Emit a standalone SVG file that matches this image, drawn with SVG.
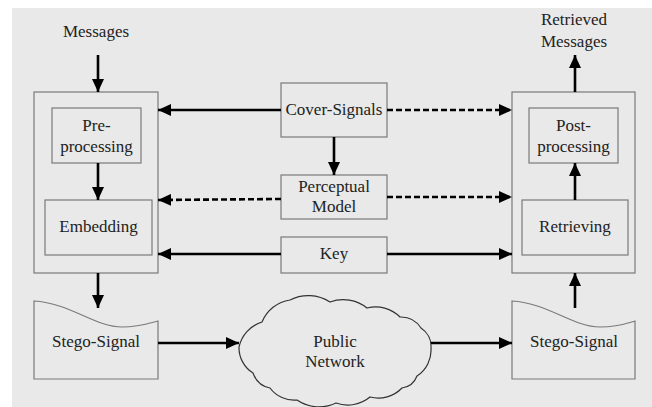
<svg xmlns="http://www.w3.org/2000/svg" width="652" height="407" viewBox="0 0 652 407">
<style>
.box{fill:none;stroke:#7a7a7a;stroke-width:1.2}
.t{font-family:'Liberation Serif','Times New Roman','DejaVu Serif',serif;font-size:17px;fill:#222;text-anchor:middle}
.a{stroke:#000;stroke-width:2.6;fill:none;marker-end:url(#ah)}
.d{stroke-dasharray:6 3}
</style>
<defs>
<marker id="ah" markerUnits="userSpaceOnUse" markerWidth="14" markerHeight="12" refX="13" refY="6" orient="auto">
<path d="M0,0 L13,6 L0,12 Z" fill="#000"/>
</marker>
</defs>
<rect x="0" y="0" width="652" height="407" fill="#fff"/>
<rect x="12" y="8" width="640" height="399" fill="#e9e9e9"/>

<g id="messages" font-family="Liberation Serif, serif"><text class="t" x="96" y="37">Messages</text></g>
<g id="retrieved-messages" font-family="Liberation Serif, serif"><text class="t" x="574" y="25">Retrieved</text><text class="t" x="574" y="47">Messages</text></g>

<g id="embedder"><rect class="box" x="34" y="92" width="124" height="181"/></g>
<g id="preprocessing"><rect class="box" x="52" y="108" width="89" height="55"/><text class="t" x="96.5" y="131">Pre-</text><text class="t" x="96.5" y="152">processing</text></g>
<g id="embedding"><rect class="box" x="45" y="200" width="107" height="55"/><text class="t" x="98.5" y="232">Embedding</text></g>

<g id="decoder"><rect class="box" x="512" y="92" width="123" height="181"/></g>
<g id="postprocessing"><rect class="box" x="529" y="108" width="89" height="55"/><text class="t" x="573.5" y="131">Post-</text><text class="t" x="573.5" y="152">processing</text></g>
<g id="retrieving"><rect class="box" x="522" y="200" width="106" height="55"/><text class="t" x="575" y="232">Retrieving</text></g>

<g id="cover-signals"><rect class="box" x="281" y="83" width="106" height="54"/><text class="t" x="334" y="115">Cover-Signals</text></g>
<g id="perceptual-model"><rect class="box" x="281" y="175" width="106" height="44"/><text class="t" x="334" y="192">Perceptual</text><text class="t" x="334" y="212">Model</text></g>
<g id="key"><rect class="box" x="281" y="237" width="106" height="36"/><text class="t" x="334" y="259">Key</text></g>

<g id="stego-left"><path class="box" d="M34,301 C70,303 95,327 122,327 C140,327 150,323 158,321 L158,379 L34,379 Z"/><text class="t" x="96" y="347">Stego-Signal</text></g>
<g id="stego-right"><path class="box" d="M512,301 C548,303 573,327 600,327 C618,327 628,323 635,321 L635,379 L512,379 Z"/><text class="t" x="574" y="347">Stego-Signal</text></g>

<g id="public-network">
<path fill="none" stroke="#333" stroke-width="1.2" d="M239,347 A34,34 0 0 1 262,322 A36,36 0 0 1 290,300 A40,40 0 0 1 330,302 A38,38 0 0 1 367,308 A34,34 0 0 1 400,317 A24,24 0 0 1 421,328 A22,22 0 0 1 431,348 A31,31 0 0 1 417,376 A19,19 0 0 1 402,388 A33,33 0 0 1 370,397 A35,35 0 0 1 336,403 A39,39 0 0 1 297,400 A30,30 0 0 1 270,388 A23,23 0 0 1 253,373 A30,30 0 0 1 239,347 Z"/>
<text class="t" x="335" y="347">Public</text><text class="t" x="335" y="367">Network</text>
</g>

<g id="connectors">
<line class="a" x1="98" y1="55" x2="98" y2="92"/>
<line class="a" x1="98" y1="163" x2="98" y2="200"/>
<line class="a" x1="98" y1="273" x2="98" y2="308"/>
<line class="a" x1="281" y1="110" x2="158" y2="110"/>
<line class="a d" x1="387" y1="110" x2="512" y2="110"/>
<line class="a" x1="334" y1="137" x2="334" y2="175"/>
<line class="a d" x1="281" y1="199" x2="158" y2="200"/>
<line class="a d" x1="387" y1="197" x2="512" y2="197"/>
<line class="a" x1="281" y1="254" x2="158" y2="254"/>
<line class="a" x1="387" y1="254" x2="512" y2="254"/>
<line class="a" x1="158" y1="343" x2="239" y2="343"/>
<line class="a" x1="431" y1="343" x2="512" y2="343"/>
<line class="a" x1="575" y1="308" x2="575" y2="273"/>
<line class="a" x1="575" y1="200" x2="575" y2="163"/>
<line class="a" x1="575" y1="92" x2="575" y2="55"/>
</g>
</svg>
